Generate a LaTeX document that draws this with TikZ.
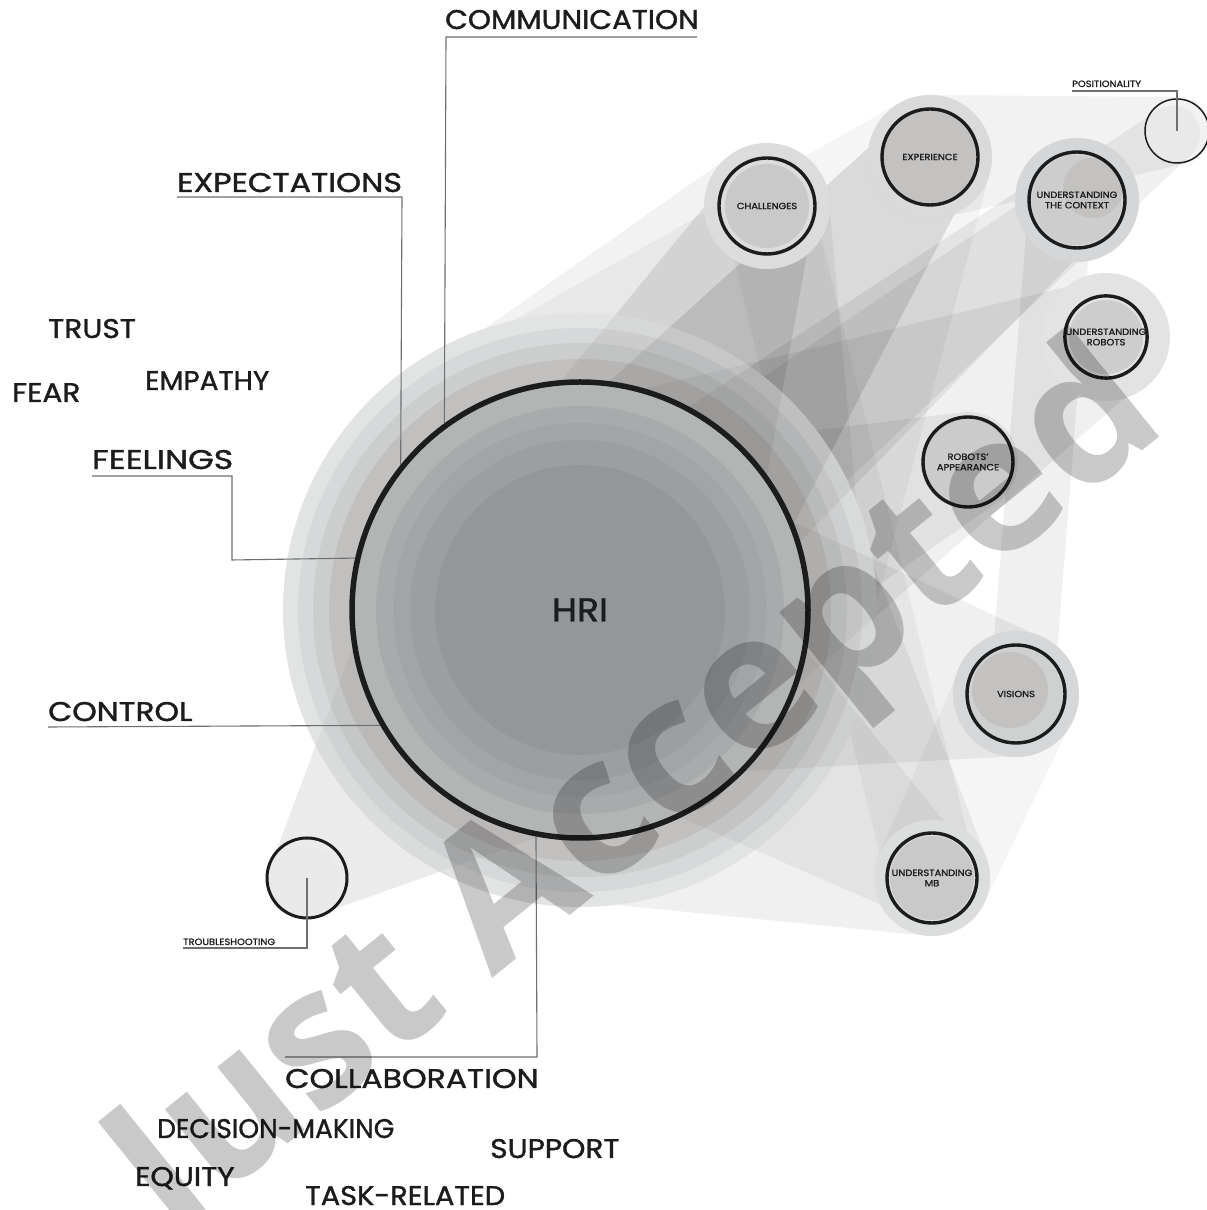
\documentclass[tikz,border=0pt]{standalone}
\usepackage{graphicx}
\usepackage{fontspec}
\setmainfont{Poppins}[FakeBold=1.3, FakeStretch=1.1]
\newfontfamily\wmfont{Open Sans}
\usetikzlibrary{calc}
\definecolor{ink}{HTML}{1A1C1E}
\definecolor{leadc}{HTML}{6E6F71}
\definecolor{warm}{HTML}{6B5A4E}
\definecolor{hR1}{HTML}{E2E3E3}
\definecolor{hR2}{HTML}{D7D8D9}
\definecolor{hR3}{HTML}{CCCDCD}
\definecolor{hR4}{HTML}{C2C0BE}
\definecolor{hA}{HTML}{B3B4B4}
\definecolor{hB}{HTML}{A8ABAC}
\definecolor{hC}{HTML}{A2A5A6}
\definecolor{hD}{HTML}{9C9FA0}
\definecolor{hE}{HTML}{959698}
\definecolor{sHalo}{HTML}{DCDCDC}
\definecolor{sIn}{HTML}{C9C9C9}
\definecolor{sWarm}{HTML}{C4C2C1}
\definecolor{gDA}{HTML}{DADADA}
\definecolor{gD5}{HTML}{D5D6D7}
\definecolor{gCD}{HTML}{CDCDCD}
\definecolor{gE3}{HTML}{E3E3E3}
\definecolor{gCB}{HTML}{CBCBCB}
\definecolor{gD6}{HTML}{D6D7D8}
\definecolor{gCF}{HTML}{CFD0D0}
\definecolor{gDC}{HTML}{DCDDDD}
\definecolor{gE9}{HTML}{E9E9E9}
% convex hull of two circles
\newcommand\hullband[7]{%
  \pgfmathsetmacro\hbdx{#4-#1}%
  \pgfmathsetmacro\hbdy{#5-#2}%
  \pgfmathsetmacro\hbd{100*veclen(\hbdx/100,\hbdy/100)}%
  \pgfmathsetmacro\hbth{atan2(\hbdy,\hbdx)}%
  \pgfmathsetmacro\hbph{acos((#3-#6)/\hbd)}%
  \pgfmathsetmacro\hba{\hbth+\hbph}%
  \pgfmathsetmacro\hbb{\hbth-\hbph}%
  \pgfmathsetmacro\hbc{\hbth+\hbph-360}%
  \fill[#7] ($(#1,#2)+(\hba:#3)$) -- ($(#4,#5)+(\hba:#6)$)
     arc[start angle=\hba, end angle=\hbb, radius=#6]
     -- ($(#1,#2)+(\hbb:#3)$)
     arc[start angle=\hbb, end angle=\hbc, radius=#3] -- cycle;
}
\newcommand\hsc[2]{\scalebox{#1}[1]{#2}}
\begin{document}
\begin{tikzpicture}[x=1pt,y=1pt,
  band/.style={fill=black, fill opacity=#1},
  band/.default=0.07,
  sat/.style={circle, draw=ink, line width=3.4pt, inner sep=0pt, align=center,
    font=\fontsize{9}{10.4}\selectfont, text=ink},
  lab/.style={font=\fontsize{27}{29}\selectfont, text=ink, inner sep=0pt},
  small/.style={font=\fontsize{9}{10}\selectfont, text=ink, inner sep=0pt},
  leader/.style={draw=leadc, line width=1.1pt}]
\useasboundingbox (0,0) rectangle (1207,1210);
\fill[white] (0,0) rectangle (1207,1210);

% ---- bands between HRI and satellites ----
\hullband{580}{600}{285}{767}{1004}{62}{band=0.05}
\hullband{580}{600}{160}{767}{1004}{48}{band=0.09}
\hullband{580}{600}{150}{930}{1053}{48}{band=0.11}
\hullband{580}{600}{285}{930}{1053}{62}{band=0.04}
\hullband{580}{600}{110}{1077}{1010}{40}{band=0.07}
\hullband{580}{600}{90}{1172}{1076}{28}{band=0.06}
\hullband{930}{1053}{62}{1177}{1079}{34}{band=0.05}
\hullband{580}{600}{200}{1106}{873}{58}{band=0.06}
\hullband{580}{600}{150}{968}{748}{50}{band=0.06}
\hullband{580}{600}{170}{1016}{516}{62}{band=0.06}
\hullband{580}{600}{290}{932}{332}{58}{band=0.06}
\hullband{580}{600}{150}{932}{332}{45}{band=0.05}
\hullband{767}{1004}{45}{932}{332}{45}{band=0.04}
\hullband{1060}{1000}{32}{1022}{520}{32}{band=0.06}
\hullband{580}{600}{200}{303}{328}{36}{band=0.08}
\hullband{1016}{516}{62}{932}{332}{58}{band=0.04}

% ---- satellite halos (opaque) ----
\fill[sHalo] (767,1004) circle (63);
\fill[sIn] (767,1004) circle (42);
\fill[gDA] (930,1053) circle (62);
\fill[sWarm] (930,1053) circle (46);
\fill[gD5] (1077,1010) circle (62);
\fill[gCD] (1077,1010) circle (45);
\fill[sWarm] (1093,1022) circle (30);
\fill[gE3] (1106,873) circle (64);
\fill[gCD] (1106,873) circle (37);
\fill[gCB] (968,748) circle (45);
\fill[gD6] (1016,516) circle (63);
\fill[gCF] (1016,516) circle (48);
\fill[sWarm] (1010,520) circle (38);
\fill[gDC] (932,332) circle (58);
\fill[sIn] (932,332) circle (42);
\fill[gE9] (303,328) circle (36);
\fill[gE9] (1172,1076) circle (28);

% ---- HRI halos (opaque) ----
\fill[hR1] (580,600) circle (297);
\fill[hR2] (580,600) circle (282);
\fill[hR3] (580,600) circle (267);
\fill[hR4] (580,600) circle (251);
\begin{scope}
  \clip (580,600) circle (297);
  \hullband{580}{600}{150}{930}{1053}{48}{band=0.07}
  \hullband{580}{600}{160}{767}{1004}{48}{band=0.05}
  \hullband{580}{600}{110}{1077}{1010}{40}{band=0.05}
  \hullband{580}{600}{170}{1016}{516}{62}{band=0.05}
  \hullband{580}{600}{200}{1106}{873}{58}{band=0.04}
  \hullband{580}{600}{150}{932}{332}{45}{band=0.04}
  \hullband{580}{600}{200}{303}{328}{36}{band=0.03}
\end{scope}
\fill[hA] (580,600) circle (228);
\fill[hB] (580,600) circle (204);
\fill[hC] (580,600) circle (187);
\fill[hD] (580,600) circle (170);
\fill[hE] (580,600) circle (145);

% ---- nodes ----
\node[circle, draw=ink, line width=5.5pt, minimum size=456pt, inner sep=0pt,
  font=\fontsize{33}{35}\selectfont, text=ink] (hri) at (580,600) {HRI};
\node[sat, minimum size=96pt] (chal) at (767,1004) {CHALLENGES};
\node[sat, minimum size=96pt] (expr) at (930,1053) {EXPERIENCE};
\node[sat, minimum size=96pt] (ctx) at (1077,1010) {UNDERSTANDING\\THE CONTEXT};
\node[sat, minimum size=64pt, line width=1.5pt] (pos) at (1177,1079) {};
\node[sat, minimum size=80pt] (rob) at (1106,873) {UNDERSTANDING\\ROBOTS};
\node[sat, minimum size=90pt] (app) at (968,748) {ROBOTS'\\APPEARANCE};
\node[sat, minimum size=98pt] (vis) at (1016,516) {VISIONS};
\node[sat, minimum size=90pt] (mb) at (932,332) {UNDERSTANDING\\MB};
\node[sat, minimum size=80pt, line width=3pt] (ts) at (307,332) {};

% ---- labels with leaders ----
\node[lab, anchor=base west] (comm) at (445,1181) {\hsc{0.99}{COMMUNICATION}};
\coordinate (commA) at (446,1173);
\coordinate (commB) at (697,1173);
\draw[leader] (commB) -- (commA) -- (hri.126);

\node[lab, anchor=base west] (expt) at (177,1018) {\hsc{1.07}{EXPECTATIONS}};
\coordinate (exptA) at (177,1013);
\coordinate (exptB) at (402,1013);
\draw[leader] (exptA) -- (exptB) -- (hri.141.3);

\node[lab, anchor=base west] (feel) at (92,741) {\hsc{1.11}{FEELINGS}};
\coordinate (feelA) at (92,734);
\coordinate (feelB) at (232,734);
\coordinate (feelC) at (232,650);
\draw[leader] (feelA) -- (feelB) -- (feelC) -- (hri.167.3);

\node[lab, anchor=base west] (ctrl) at (48,489) {\hsc{1.05}{CONTROL}};
\coordinate (ctrlA) at (48,483);
\draw[leader] (ctrlA) -- (hri.210.9);

\node[lab, anchor=base west] (coll) at (285,122) {\hsc{1.06}{COLLABORATION}};
\coordinate (collA) at (285,153);
\coordinate (collB) at (537,153);
\draw[leader] (collA) -- (collB) -- (hri.259.1);

\node[small, anchor=base west] (trbl) at (183,265) {TROUBLESHOOTING};
\coordinate (trblA) at (183,262);
\coordinate (trblB) at (307,262);
\draw[leader] (trblA) -- (trblB) -- (ts.center);

\node[small, anchor=base west] (posl) at (1072,1123) {POSITIONALITY};
\coordinate (poslA) at (1072,1119);
\coordinate (poslB) at (1177,1119);
\draw[leader] (poslA) -- (poslB) -- (pos.center);

% ---- free labels ----
\node[lab, anchor=base west] (trust) at (48,872) {TRUST};
\node[lab, anchor=base west] (emp) at (145,820) {\hsc{0.94}{EMPATHY}};
\node[lab, anchor=base west] (fear) at (12,808) {FEAR};
\node[lab, anchor=base west] (dec) at (157,72) {\hsc{0.89}{DECISION-MAKING}};
\node[lab, anchor=base west] (supp) at (490,52) {SUPPORT};
\node[lab, anchor=base west] (eq) at (135,24) {EQUITY};
\node[lab, anchor=base west] (task) at (305,5) {\hsc{0.97}{TASK-RELATED}};

% ---- watermark ----
\node[rotate=39, font=\wmfont\bfseries\fontsize{190}{200}\selectfont, text=black,
  text opacity=0.21, inner sep=0pt] (wm) at (640,415) {Just Accepted};
\end{tikzpicture}
\end{document}
